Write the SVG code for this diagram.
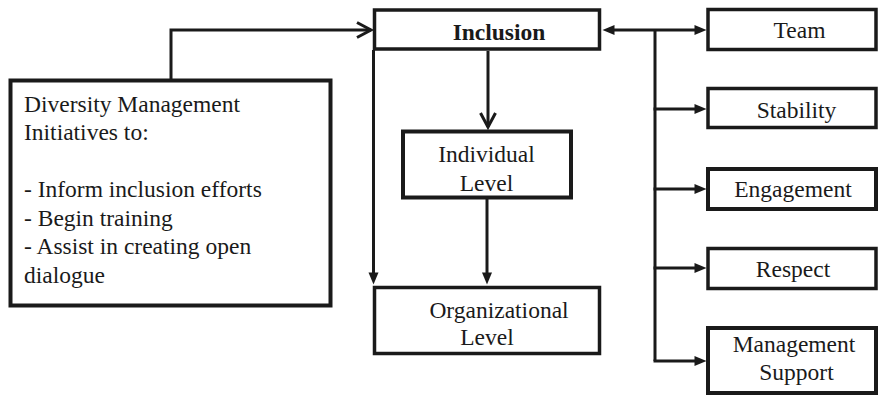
<svg xmlns="http://www.w3.org/2000/svg" width="878" height="396" viewBox="0 0 878 396">
  <style>
    .box { fill: #ffffff; stroke: #1a1a1a; stroke-width: 3.5; }
    .thick { stroke-width: 4; }
    .t { font-size: 23.5px; fill: #1a1a1a; }
    .b { font-weight: bold; }
    .mid { text-anchor: middle; }
    .conn { fill: none; stroke: #1a1a1a; stroke-width: 3; }
  </style>
  <defs>
    <marker id="fill" markerUnits="userSpaceOnUse" markerWidth="12" markerHeight="10" refX="0.5" refY="5" orient="auto-start-reverse" overflow="visible">
      <path d="M0,0 L12,5 L0,10 z" fill="#1a1a1a"/>
    </marker>
    <marker id="open" markerUnits="userSpaceOnUse" markerWidth="16" markerHeight="16" refX="14" refY="8" orient="auto" overflow="visible">
      <path d="M0,0.5 L14,8 L0,15.5" fill="none" stroke="#1a1a1a" stroke-width="3"/>
    </marker>
  </defs>
  <rect width="878" height="396" fill="#ffffff"/>

  <g id="connectors">
    <path class="conn" d="M171,80 V30 H371" marker-end="url(#open)"/>
    <path class="conn" d="M488,51 V127" marker-end="url(#open)"/>
    <path class="conn" d="M373.5,50 V273" marker-end="url(#fill)"/>
    <path class="conn" d="M487,199 V273" marker-end="url(#fill)"/>
    <path class="conn" d="M614,30 H695" marker-start="url(#fill)" marker-end="url(#fill)"/>
    <path class="conn" d="M655,30 V361"/>
    <path class="conn" d="M653.5,109 H695" marker-end="url(#fill)"/>
    <path class="conn" d="M653.5,189 H695" marker-end="url(#fill)"/>
    <path class="conn" d="M653.5,268 H695" marker-end="url(#fill)"/>
    <path class="conn" d="M653.5,361 H695" marker-end="url(#fill)"/>
  </g>

  <g font-family="'Liberation Serif', 'DejaVu Serif', serif">
  <g id="diversity">
    <rect class="box thick" x="10.5" y="80.5" width="320" height="225"/>
    <text class="t" x="24" y="111.5">Diversity Management</text>
    <text class="t" x="24" y="139.5">Initiatives to:</text>
    <text class="t" x="24" y="197">- Inform inclusion efforts</text>
    <text class="t" x="24" y="226">- Begin training</text>
    <text class="t" x="24" y="254">- Assist in creating open</text>
    <text class="t" x="24" y="283">dialogue</text>
  </g>

  <g id="inclusion">
    <rect class="box" x="374.5" y="10" width="225" height="39"/>
    <text class="t b mid" x="499" y="39.5">Inclusion</text>
  </g>

  <g id="individual">
    <rect class="box thick" x="403" y="131.5" width="168" height="66"/>
    <text class="t mid" x="486.5" y="162">Individual</text>
    <text class="t mid" x="486.5" y="190.5">Level</text>
  </g>

  <g id="organizational">
    <rect class="box" x="374.5" y="287.5" width="225" height="66"/>
    <text class="t mid" x="499" y="317.5">Organizational</text>
    <text class="t mid" x="487" y="345">Level</text>
  </g>

  <g id="team">
    <rect class="box" x="708" y="9.5" width="168" height="40"/>
    <text class="t mid" x="799.5" y="37.5">Team</text>
  </g>

  <g id="stability">
    <rect class="box" x="708" y="88.5" width="168" height="39"/>
    <text class="t mid" x="796.5" y="117.5">Stability</text>
  </g>

  <g id="engagement">
    <rect class="box thick" x="708" y="169" width="168" height="40"/>
    <text class="t mid" x="793" y="197">Engagement</text>
  </g>

  <g id="respect">
    <rect class="box" x="708" y="248.5" width="168" height="40"/>
    <text class="t mid" x="793" y="277">Respect</text>
  </g>

  <g id="management">
    <rect class="box thick" x="708" y="328" width="168" height="65"/>
    <text class="t mid" x="794" y="352">Management</text>
    <text class="t mid" x="796.5" y="380">Support</text>
  </g>
  </g>
</svg>
